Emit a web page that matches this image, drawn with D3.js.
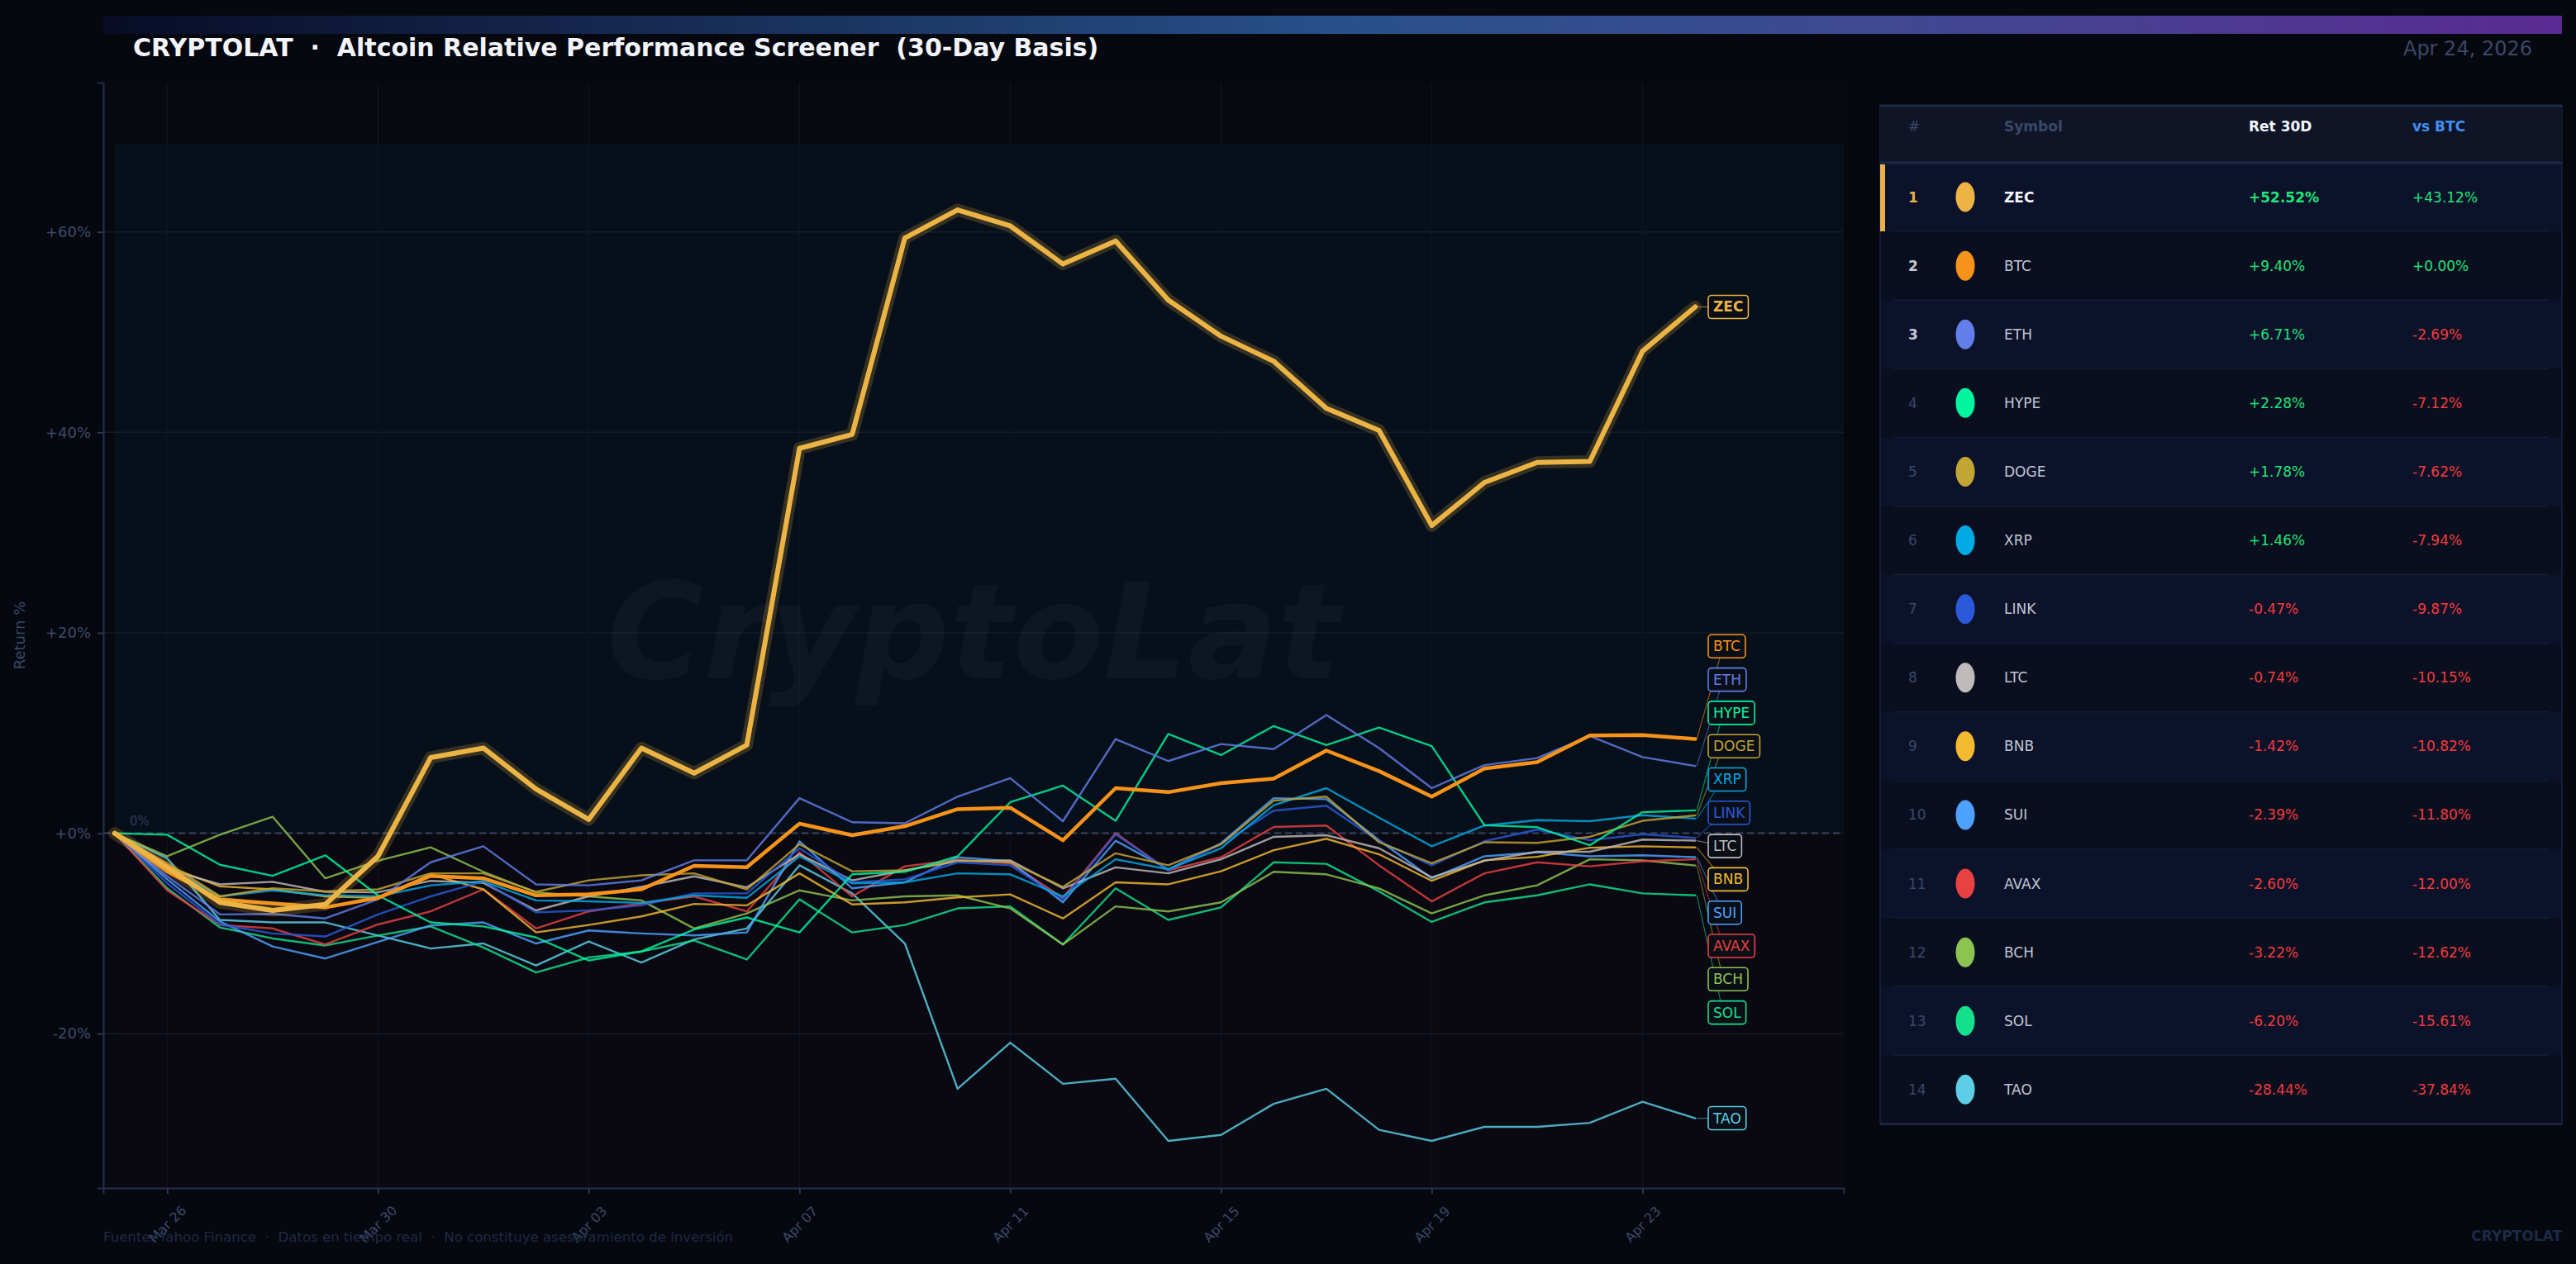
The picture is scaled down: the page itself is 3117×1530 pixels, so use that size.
<!DOCTYPE html>
<html>
<head>
<meta charset="utf-8">
<script src="https://cdn.jsdelivr.net/npm/d3@7"></script>
<style>
  html, body { margin: 0; padding: 0; background: #05080f; }
  svg { display: block; font-family: "DejaVu Sans", sans-serif; }
</style>
</head>
<body>
<svg id="chart" width="3117" height="1530"></svg>
<script>
// --- data (30-day returns, % vs Mar 25) ---
const dates = ["2026-03-25","2026-03-26","2026-03-27","2026-03-28","2026-03-29","2026-03-30","2026-03-31",
  "2026-04-01","2026-04-02","2026-04-03","2026-04-04","2026-04-05","2026-04-06","2026-04-07","2026-04-08",
  "2026-04-09","2026-04-10","2026-04-11","2026-04-12","2026-04-13","2026-04-14","2026-04-15","2026-04-16",
  "2026-04-17","2026-04-18","2026-04-19","2026-04-20","2026-04-21","2026-04-22","2026-04-23","2026-04-24"];

const symbols = ["ZEC","BTC","ETH","HYPE","DOGE","XRP","LINK","LTC","BNB","SUI","AVAX","BCH","SOL","TAO"];
const colors  = ["#ebb445","#f7931a","#627eea","#00f5a0","#c2a633","#00aae4","#2a5ada","#bfbbbb","#f3ba2f","#4da2ff","#e84142","#8dc351","#14e08c","#5ccfe6"];

// table columns (as shown in the screener)
const ret30 = [52.52, 9.40, 6.71, 2.28, 1.78, 1.46, -0.47, -0.74, -1.42, -2.39, -2.60, -3.22, -6.20, -28.44];
const vsBtc = [43.12, 0.00, -2.69, -7.12, -7.62, -7.94, -9.87, -10.15, -10.82, -11.80, -12.00, -12.62, -15.61, -37.84];

const zec  = [0, -3.4, -6.9, -7.7, -7.1, -2.3, 7.55, 8.5, 4.4, 1.37, 8.5, 6.0, 8.8, 38.4, 39.8, 59.4, 62.2, 60.6, 56.8, 59.1, 53.2, 49.6, 47.1, 42.4, 40.2, 30.7, 35.0, 37.0, 37.1, 48.1, 52.52];
const btc  = [0, -3.8, -6.6, -7.0, -7.4, -6.45, -4.25, -4.5, -6.2, -6.1, -5.6, -3.25, -3.4, 0.96, -0.2, 0.7, 2.4, 2.55, -0.7, 4.5, 4.1, 5.0, 5.45, 8.25, 6.2, 3.65, 6.45, 7.1, 9.75, 9.8, 9.40];
const eth  = [0, -4.3, -8.1, -8.05, -8.5, -6.6, -2.9, -1.3, -5.1, -5.2, -4.7, -2.7, -2.7, 3.5, 1.1, 1.0, 3.65, 5.5, 1.2, 9.4, 7.2, 8.9, 8.4, 11.8, 8.5, 4.5, 6.8, 7.5, 9.7, 7.6, 6.71];
const hype = [0, -0.15, -3.15, -4.25, -2.2, -6.2, -8.9, -9.3, -10.4, -12.7, -11.8, -9.6, -8.4, -9.9, -4.1, -3.85, -2.3, 3.1, 4.75, 1.24, 9.9, 7.8, 10.7, 8.8, 10.55, 8.7, 0.8, 0.6, -1.2, 2.1, 2.28];
const doge = [0, -3.0, -6.3, -5.5, -5.8, -5.6, -4.0, -4.0, -5.85, -4.7, -4.2, -4.0, -5.6, -1.1, -3.8, -3.7, -2.7, -2.9, -5.35, -2.0, -3.2, -1.1, 3.25, 3.65, -0.9, -3.0, -0.9, -0.96, -0.36, 1.24, 1.78];
const xrp  = [0, -3.4, -6.3, -5.7, -6.2, -6.3, -5.2, -4.8, -6.7, -6.8, -6.95, -6.2, -6.45, -2.3, -5.0, -4.9, -4.0, -4.1, -6.3, -2.6, -3.6, -1.5, 2.8, 4.5, 1.55, -1.3, 0.77, 1.3, 1.2, 1.8, 1.46];
const link = [0, -5.0, -9.1, -10.0, -10.3, -8.1, -6.3, -4.8, -7.9, -7.7, -7.2, -6.0, -6.0, -1.5, -4.9, -4.6, -2.9, -3.2, -6.6, -0.1, -3.7, -1.1, 2.25, 2.75, -0.8, -3.2, -0.8, 0.36, -0.7, -0.1, -0.47];
const ltc  = [0, -3.6, -5.1, -4.85, -5.85, -5.9, -4.75, -4.95, -7.7, -6.3, -5.35, -4.3, -5.4, -2.1, -4.7, -3.7, -2.8, -2.7, -5.5, -3.4, -4.0, -2.6, -0.36, -0.2, -1.5, -4.4, -2.75, -1.85, -1.85, -0.63, -0.74];
const bnb  = [0, -3.3, -5.3, -5.6, -6.3, -6.45, -4.1, -5.6, -9.9, -9.15, -8.3, -7.05, -7.2, -4.0, -7.1, -6.9, -6.4, -6.1, -8.5, -4.9, -5.1, -3.8, -1.7, -0.55, -2.1, -4.75, -2.7, -2.35, -1.45, -1.3, -1.42];
const sui  = [0, -4.6, -8.8, -11.3, -12.5, -10.85, -9.2, -8.9, -11.0, -9.7, -10.0, -10.2, -9.9, -0.8, -5.5, -4.9, -2.4, -2.8, -6.9, -0.75, -3.6, -1.0, 3.5, 3.4, -0.7, -4.5, -2.3, -1.9, -2.3, -2.2, -2.39];
const avax = [0, -5.7, -9.15, -9.5, -11.1, -9.1, -7.8, -5.6, -9.5, -7.8, -7.0, -6.3, -7.8, -1.9, -6.3, -3.3, -2.65, -3.0, -6.45, 0.0, -3.7, -2.4, 0.63, 0.77, -3.2, -6.8, -4.0, -2.9, -3.3, -2.8, -2.60];
const bch  = [0, -2.3, -0.15, 1.65, -4.5, -2.75, -1.4, -3.85, -5.9, -6.3, -6.7, -9.5, -8.0, -5.7, -6.7, -6.3, -6.2, -7.5, -11.1, -7.3, -7.8, -6.9, -3.85, -4.1, -5.5, -8.0, -6.2, -5.2, -2.6, -2.7, -3.22];
const sol  = [0, -5.5, -9.4, -10.5, -11.2, -10.2, -9.3, -11.4, -13.9, -12.4, -11.8, -10.7, -12.6, -6.6, -9.9, -9.15, -7.5, -7.3, -11.1, -5.5, -8.65, -7.4, -2.9, -3.05, -5.8, -8.85, -6.9, -6.2, -5.1, -6.0, -6.20];
const tao  = [0, -2.5, -8.65, -8.9, -8.9, -10.2, -11.5, -11.0, -13.2, -10.8, -12.9, -10.6, -9.5, -3.2, -6.0, -11.0, -25.5, -20.9, -25.0, -24.5, -30.7, -30.1, -27.0, -25.5, -29.6, -30.7, -29.3, -29.3, -28.9, -26.8, -28.44];

const xTicks = ["2026-03-26","2026-03-30","2026-04-03","2026-04-07","2026-04-11","2026-04-15","2026-04-19","2026-04-23"];
const yTicks = [-20, 0, 20, 40, 60];

const values = [zec, btc, eth, hype, doge, xrp, link, ltc, bnb, sui, avax, bch, sol, tao];

// --- layout ---
const W = 3117, H = 1530;
const plot = { left: 125, right: 2231, top: 100, bottom: 1438 };
const DAY = 864e5;
const parse = d3.utcParse("%Y-%m-%d");
const days = dates.map(parse);

const x = d3.scaleUtc()
  .domain([+days[0] - 0.213 * DAY, +days[days.length - 1] + 2.82 * DAY])
  .range([plot.left, plot.right]);
const y = d3.scaleLinear().domain([-35.4, 74.9]).range([plot.bottom, plot.top]);

const svg = d3.select("#chart");
const defs = svg.append("defs");

const grad = defs.append("linearGradient").attr("id", "topbar");
[["0", "#080c26"], ["0.5", "#275089"], ["0.72", "#3f4a92"], ["1", "#5a2a93"]]
  .forEach(([o, c]) => grad.append("stop").attr("offset", o).attr("stop-color", c));

svg.append("rect").attr("width", W).attr("height", H).attr("fill", "#05080f");

// header
svg.append("rect").attr("x", 125).attr("y", 19).attr("width", 2975).attr("height", 22).attr("fill", "url(#topbar)");
svg.append("text").attr("x", 161).attr("y", 68)
  .style("white-space", "pre")
  .attr("font-size", 30).attr("font-weight", "bold").attr("fill", "#f2f4fa")
  .text("CRYPTOLAT  ·  Altcoin Relative Performance Screener  (30-Day Basis)");
svg.append("text").attr("x", 3064).attr("y", 67).attr("text-anchor", "end")
  .attr("font-size", 24).attr("fill", "#3a4868").text("Apr 24, 2026");

// --- plot background and zones ---
const g = svg.append("g");
g.append("rect").attr("x", plot.left).attr("y", plot.top)
  .attr("width", plot.right - plot.left).attr("height", plot.bottom - plot.top).attr("fill", "#060910");
g.append("rect").attr("x", x(days[0])).attr("y", y(68.8))
  .attr("width", plot.right - x(days[0])).attr("height", y(0) - y(68.8)).attr("fill", "#07101a");
g.append("rect").attr("x", x(days[0])).attr("y", y(0))
  .attr("width", plot.right - x(days[0])).attr("height", plot.bottom - y(0)).attr("fill", "#0a0911");

// grid
g.selectAll(".hgrid").data(yTicks).enter().append("line")
  .attr("x1", plot.left).attr("x2", plot.right)
  .attr("y1", d => y(d)).attr("y2", d => y(d))
  .attr("stroke", "#131a29").attr("stroke-width", 1.5);
g.selectAll(".vgrid").data(xTicks.map(parse)).enter().append("line")
  .attr("x1", d => x(d)).attr("x2", d => x(d))
  .attr("y1", plot.top).attr("y2", plot.bottom)
  .attr("stroke", "#0e1320").attr("stroke-width", 1.5);

// watermark
g.append("text").attr("x", (plot.left + plot.right) / 2).attr("y", (plot.top + plot.bottom) / 2 - 4)
  .attr("text-anchor", "middle").attr("dominant-baseline", "central")
  .attr("font-size", 160).attr("font-weight", "bold").attr("font-style", "italic")
  .attr("fill", "#ffffff").attr("fill-opacity", 0.03).text("CryptoLat");

// zero line
g.append("line").attr("x1", plot.left).attr("x2", plot.right).attr("y1", y(0)).attr("y2", y(0))
  .attr("stroke", "#3b4560").attr("stroke-width", 2).attr("stroke-dasharray", "8,5");
g.append("text").attr("x", 157).attr("y", y(0) - 10).attr("font-size", 15).attr("fill", "#2e3a5a").text("0%");

// axes
const fmtPct = v => (v >= 0 ? "+" : "-") + Math.abs(v) + "%";
const yAxis = svg.append("g").attr("transform", `translate(${plot.left},0)`)
  .call(d3.axisLeft(y).tickValues(yTicks).tickFormat(fmtPct).tickSize(7).tickPadding(8));
const xAxis = svg.append("g").attr("transform", `translate(0,${plot.bottom})`)
  .call(d3.axisBottom(x).tickValues(xTicks.map(parse)).tickFormat(d3.utcFormat("%b %d")).tickSize(7));
[yAxis, xAxis].forEach(a => {
  a.select(".domain").attr("stroke", "#252f4c").attr("stroke-width", 2);
  a.selectAll(".tick line").attr("stroke", "#2a3552").attr("stroke-width", 2);
  a.selectAll(".tick text").attr("fill", "#3d4a6b").attr("font-family", "DejaVu Sans");
});
yAxis.selectAll(".tick text").attr("font-size", 18);
xAxis.selectAll(".tick text").attr("font-size", 16)
  .attr("y", null).attr("dy", null).attr("text-anchor", "middle")
  .attr("dominant-baseline", "central").attr("transform", "translate(0,44) rotate(-45)");

svg.append("text").attr("transform", `translate(30,${(plot.top + plot.bottom) / 2}) rotate(-90)`)
  .attr("text-anchor", "middle").attr("font-size", 18).attr("fill", "#3a4868").text("Return %");

// --- lines ---
const line = d3.line().x((d, i) => x(days[i])).y(d => y(d));
const series = symbols.map((s, i) => ({ sym: s, color: colors[i], vals: values[i], last: ret30[i], vs: vsBtc[i] }));
const lines = g.append("g").attr("fill", "none").attr("stroke-linejoin", "round").attr("stroke-linecap", "round");

const drawOrder = series.slice(2).reverse().concat([series[1]]);
drawOrder.forEach(s => {
  lines.append("path").attr("d", line(s.vals)).attr("stroke", s.color)
    .attr("stroke-width", s.sym === "BTC" ? 4.5 : 2.4)
    .attr("stroke-opacity", s.sym === "BTC" ? 1 : 0.82);
});
const zs = series[0];
lines.append("path").attr("d", line(zs.vals)).attr("stroke", zs.color).attr("stroke-width", 15).attr("stroke-opacity", 0.2);
lines.append("path").attr("d", line(zs.vals)).attr("stroke", zs.color).attr("stroke-width", 6);

// --- end labels with simple collision spreading ---
const GAP = 40.3;
const items = series.map(s => ({ s, ty: y(s.last) })).sort((a, b) => a.ty - b.ty);
let groups = items.map(it => ({ items: [it] }));
const place = gr => { gr.top = d3.mean(gr.items, d => d.ty) - (gr.items.length - 1) * GAP / 2; };
groups.forEach(place);
let merged = true;
while (merged) {
  merged = false;
  for (let i = 0; i < groups.length - 1; i++) {
    const a = groups[i], b = groups[i + 1];
    if (a.top + a.items.length * GAP > b.top) {
      a.items = a.items.concat(b.items); place(a); groups.splice(i + 1, 1); merged = true; break;
    }
  }
}
groups.forEach(gr => gr.items.forEach((it, k) => { it.ly = gr.top + k * GAP; }));

const labX = 2067, xEnd = x(days[days.length - 1]);
const labG = svg.append("g");
items.forEach(it => {
  labG.append("line").attr("x1", xEnd + 2).attr("y1", it.ty).attr("x2", labX + 18).attr("y2", it.ly)
    .attr("stroke", it.s.color).attr("stroke-width", 1.2).attr("stroke-opacity", 0.55);
});
items.forEach(it => {
  const lg = labG.append("g");
  const rect = lg.append("rect");
  const t = lg.append("text").attr("x", labX + 6).attr("y", it.ly).attr("dominant-baseline", "central")
    .attr("font-size", 17).attr("font-weight", it.s.sym === "ZEC" ? "bold" : "normal")
    .attr("fill", it.s.color).text(it.s.sym);
  const w = t.node().getComputedTextLength() + 12;
  rect.attr("x", labX).attr("y", it.ly - 14).attr("width", w).attr("height", 28).attr("rx", 4)
    .attr("fill", "#0a0e16").attr("stroke", it.s.color).attr("stroke-width", 1.6);
});

// --- ranking table ---
const tX = 2275, tW = 825, tTop = 128, rowsTop = 197, rowH = 83.1;
const ranked = d3.sort(series, (a, b) => b.last - a.last);
const tb = svg.append("g");
tb.append("rect").attr("x", tX).attr("y", tTop).attr("width", tW).attr("height", rowsTop + ranked.length * rowH - tTop)
  .attr("fill", "#0b1020").attr("stroke", "#1a2340").attr("stroke-width", 1.5);
tb.append("rect").attr("x", tX).attr("y", tTop).attr("width", tW).attr("height", rowsTop - tTop).attr("fill", "#0f1527");
tb.append("line").attr("x1", tX).attr("x2", tX + tW).attr("y1", tTop).attr("y2", tTop).attr("stroke", "#1e2a4a").attr("stroke-width", 3);

const hy = 159;
[["#", 2309, "#3a4868", "normal"], ["Symbol", 2425, "#3a4868", "bold"], ["Ret 30D", 2721, "#f2f4fa", "bold"], ["vs BTC", 2919, "#3f8ff0", "bold"]]
  .forEach(([t, hx, c, fw]) => tb.append("text").attr("x", hx).attr("y", hy).attr("font-size", 17)
    .attr("font-weight", fw).attr("fill", c).text(t));

const green = "#20e27a", red = "#f03c3c";
const fmt = v => (v >= 0 ? "+" : "-") + Math.abs(v).toFixed(2) + "%";
ranked.forEach((s, i) => {
  const top = rowsTop + i * rowH, cy = top + rowH / 2;
  tb.append("rect").attr("x", tX + 1).attr("y", top).attr("width", tW - 2).attr("height", rowH)
    .attr("fill", i % 2 === 0 ? "#0c1229" : "#0a0f1f");
  if (i > 0) tb.append("line").attr("x1", 2292).attr("x2", 3084).attr("y1", top).attr("y2", top)
    .attr("stroke", "#151d33").attr("stroke-width", 1.5);
  if (i === 0) tb.append("rect").attr("x", tX).attr("y", top + 2).attr("width", 6).attr("height", rowH - 2).attr("fill", "#e8b04a");
  const rk = i + 1;
  tb.append("text").attr("x", 2309).attr("y", cy).attr("dominant-baseline", "central").attr("font-size", 17)
    .attr("font-weight", rk <= 3 ? "bold" : "normal")
    .attr("fill", rk === 1 ? "#e8b04a" : rk <= 3 ? "#c4c8d4" : "#3a4868").text(rk);
  tb.append("ellipse").attr("cx", 2378).attr("cy", cy).attr("rx", 11.5).attr("ry", 18).attr("fill", s.color);
  tb.append("text").attr("x", 2425).attr("y", cy).attr("dominant-baseline", "central").attr("font-size", 17)
    .attr("font-weight", rk === 1 ? "bold" : "normal").attr("fill", rk === 1 ? "#f4f6fb" : "#c0c6d6").text(s.sym);
  tb.append("text").attr("x", 2721).attr("y", cy).attr("dominant-baseline", "central").attr("font-size", 17)
    .attr("font-weight", rk === 1 ? "bold" : "normal").attr("fill", s.last >= 0 ? green : red).text(fmt(s.last));
  tb.append("text").attr("x", 2919).attr("y", cy).attr("dominant-baseline", "central").attr("font-size", 17)
    .attr("fill", s.vs >= 0 ? green : red).text(fmt(s.vs));
});
tb.append("line").attr("x1", tX).attr("x2", tX + tW).attr("y1", rowsTop).attr("y2", rowsTop).attr("stroke", "#1c2848").attr("stroke-width", 3);
const tBottom = rowsTop + ranked.length * rowH;
tb.append("line").attr("x1", tX).attr("x2", tX + tW).attr("y1", tBottom).attr("y2", tBottom).attr("stroke", "#1e2a4a").attr("stroke-width", 2.5);

// footer
svg.append("text").attr("x", 125).attr("y", 1503).style("white-space", "pre")
  .attr("font-size", 16.6).attr("fill", "#1f2a44")
  .text("Fuente: Yahoo Finance  ·  Datos en tiempo real  ·  No constituye asesoramiento de inversión");
svg.append("text").attr("x", 3100).attr("y", 1502).attr("text-anchor", "end")
  .attr("font-size", 17).attr("font-weight", "bold").attr("fill", "#1c2a48").text("CRYPTOLAT");
</script>
</body>
</html>
